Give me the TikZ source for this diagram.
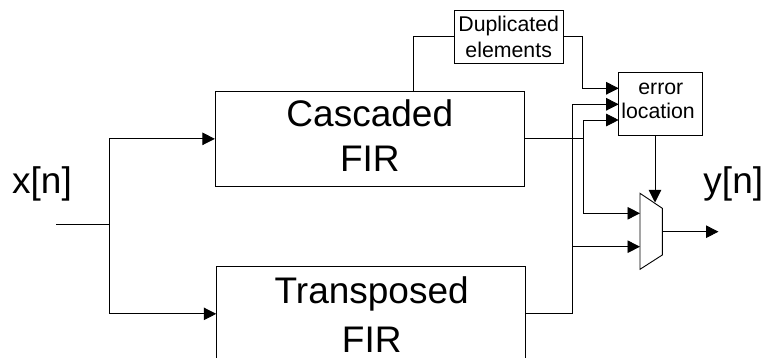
\documentclass[tikz,border=0pt]{standalone}
\usepackage{fontspec}
\setmainfont{Liberation Sans}
\usetikzlibrary{arrows.meta,calc}
\begin{document}
\begin{tikzpicture}[x=1pt,y=-1pt,
  blk/.style={draw,line width=0.9pt,inner sep=0pt},
  big/.style={font=\fontsize{37}{44}\selectfont,anchor=base,inner sep=0pt},
  small/.style={font=\fontsize{21.3}{25}\selectfont,anchor=base,inner sep=0pt},
  wire/.style={line width=0.9pt},
  arr/.style={wire,-{Triangle[length=12.5pt,width=12.5pt]}}]
\useasboundingbox (0,0) rectangle (766,358);
\clip (0,0) rectangle (766,358);

% filter blocks
\node[blk,minimum width=309pt,minimum height=94.3pt] (casc) at (369.8,138.85) {};
\node[big] (casc1) at (369.8,126.7) {Cascaded};
\node[big] (casc2) at (369.8,171.7) {FIR};
\node[blk,minimum width=308.3pt,minimum height=94.3pt] (trans) at (370.85,313.85) {};
\node[big] (trans1) at (371.7,303.3) {Transposed};
\node[big] (trans2) at (371.7,352.3) {FIR};

% checking blocks
\node[blk,minimum width=109.7pt,minimum height=52.7pt] (dup) at (508.85,36.65) {};
\node[small] (dup1) at (508.7,31.7) {Duplicated};
\node[small] (dup2) at (508.7,57.3) {elements};
\node[blk,minimum width=83.3pt,minimum height=63.7pt] (err) at (660.35,103.85) {};
\node[small] (err1) at (660.8,95) {error};
\node[small] (err2) at (658,119) {location};

% signal labels
\node[big] (xn) at (42,194) {x[n]};
\node[big] (yn) at (733.3,194) {y[n]};

% multiplexer
\coordinate (m1) at (640,193.3);
\coordinate (m2) at (662.3,208.3);
\coordinate (m3) at (662.3,255);
\coordinate (m4) at (640,269.3);
\draw[wire] (m1) -- (m2) -- (m3) -- (m4) -- cycle;
\coordinate (min1) at (640,213.3);
\coordinate (min2) at (640,246.7);
\coordinate (msel) at (655,202.5);
\coordinate (mout) at (662.3,231.7);
\coordinate (yend) at (718.5,231.7);

% error-location inputs
\coordinate (ein1) at (618.7,88.3);
\coordinate (ein2) at (618.7,104.3);
\coordinate (ein3) at (618.7,120);

% input split
\coordinate (xin) at (56,224.3);
\coordinate (split) at (109.3,224.3);
\draw[wire] (xin) -- (split);
\draw[arr] (split) |- (casc.west);
\draw[arr] (split) |- (trans.west);

% duplicated-elements path
\coordinate (tap) at (413.3,0);
\coordinate (dupout) at (582,0);
\draw[wire] (casc.north -| tap) |- (dup.west);
\draw[arr] (dup.east) -| (dupout |- ein1) -- (ein1);

% filter outputs
\coordinate (jc) at (583.3,138.85);
\coordinate (jt) at (572.3,313.85);
\draw[wire] (casc.east) -- (jc);
\draw[arr] (jc) |- (ein3);
\draw[arr] (jc) |- (min1);
\draw[wire] (trans.east) -- (jt);
\draw[arr] (jt) |- (ein2);
\draw[arr] (jt) |- (min2);

% select and output
\draw[arr] (err.south -| msel) -- (msel);
\draw[arr] (mout) -- (yend);
\end{tikzpicture}
\end{document}
